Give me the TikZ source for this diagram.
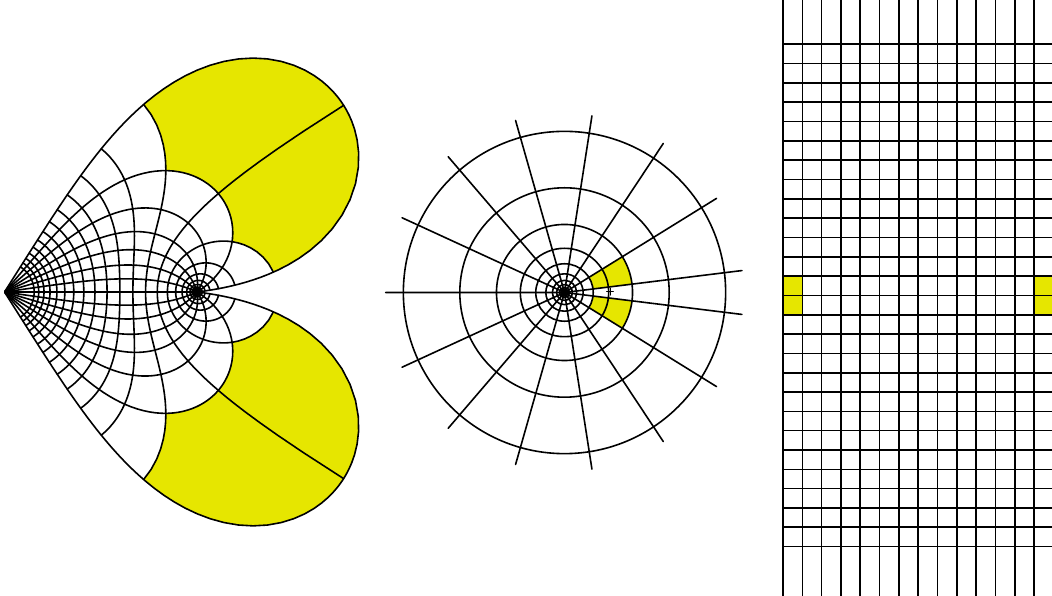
\documentclass[tikz,border=0pt]{standalone}
\usepackage{xfp}
\definecolor{lobe}{RGB}{230,230,0}
% point of the left picture: w = exp(0.43122 k) e^{i t}, image (1-w)^(-1/3)
\newcommand\hpt[2]{%
  \edef\hr{\fpeval{exp(0.43122*(#1))}}%
  \edef\hu{\fpeval{1-\hr*cosd(#2)}}%
  \edef\hv{\fpeval{-\hr*sind(#2)}}%
  \edef\hm{\fpeval{192.5*((\hu)^2+(\hv)^2)^(-1/6)}}%
  \edef\ha{\fpeval{atand(\hv,\hu)/3}}%
  \xdef\hpts{\hpts(\fpeval{round(4.5+\hm*cosd(\ha),2)},\fpeval{round(304-\hm*sind(\ha),2)})}}
\begin{document}
\begin{tikzpicture}[x=1pt, y=1pt, line join=round, line cap=round,
  grid/.style={line width=1.6pt}]
  \useasboundingbox (0,0) rectangle (1052,596);

  % Left: heart shaped image
  \coordinate (B) at (4.5,304);
  \coordinate (A) at (197,304);
  % yellow cells next to the pole
  \foreach \ta/\tb in {7.05/31.757, 352.95/328.243} {
    \gdef\hpts{}
    \foreach \i in {0,...,50} {\hpt{-1+\i/25}{\ta}}
    \foreach \i in {1,...,15} {\hpt{1}{\ta+(\tb-\ta)*\i/15}}
    \foreach \i in {1,...,50} {\hpt{1-\i/25}{\tb}}
    \foreach \i in {1,...,15} {\hpt{-1}{\tb+(\ta-\tb)*\i/15}}
    \fill[lobe] plot coordinates {\hpts} -- cycle;
  }
  % circles
  \foreach \k in {-13,...,13} {
    \pgfmathtruncatemacro\nn{\k<-5 ? 36 : 100}
    \gdef\hpts{}
    \foreach \i in {0,...,\nn} {\hpt{\k}{7.05+345.9*\i/\nn}}
    \draw[grid] plot coordinates {\hpts};
  }
  % rays
  \foreach \j in {0,...,14} {
    \gdef\hpts{}
    \foreach \i in {0,...,60} {\hpt{-25*(1-\i/60)^3}{7.05+24.707*\j}}
    \foreach \i in {1,...,90} {\hpt{40*(\i/90)^3}{7.05+24.707*\j}}
    \draw[grid] plot coordinates {\hpts};
  }

  % Middle: slit annulus
  \coordinate (M) at (564.5,303.5);
  \coordinate (P) at (610,304.3);
  \fill[lobe, shift={(M)}] (7.05:28.72pt) arc[start angle=7.05, end angle=31.757, radius=28.72pt]
    -- (31.757:68.03pt) arc[start angle=31.757, end angle=7.05, radius=68.03pt] -- cycle;
  \fill[lobe, shift={(M)}] (-7.05:28.72pt) arc[start angle=-7.05, end angle=-31.757, radius=28.72pt]
    -- (-31.757:68.03pt) arc[start angle=-31.757, end angle=-7.05, radius=68.03pt] -- cycle;
  \foreach \k in {-13,...,3} {
    \pgfmathsetmacro\rr{44.2*pow(1.5391,\k)}
    \draw[grid] (M) circle[radius=\rr pt];
  }
  \foreach \j in {0,...,14}
    \draw[grid] (M) -- +({7.05+24.707*\j}:178.8pt);
  % pole
  \draw[line width=0.9pt] (P) +(-3.5,0) -- +(3.5,0) (P) +(0,-3.5) -- +(0,3.5);

  % Right: square grid
  \fill[lobe] (783,281.22) rectangle (802.32,319.86);
  \fill[lobe] (1034.2,281.22) rectangle (1053.5,319.86);
  \foreach \j in {0,...,14}
    \draw[grid] ({783+19.32*\j},-5) -- ({783+19.32*\j},601);
  \foreach \i in {0,...,26}
    \draw[grid] (783,{551.7-19.32*\i}) -- (1053.5,{551.7-19.32*\i});
\end{tikzpicture}
\end{document}
